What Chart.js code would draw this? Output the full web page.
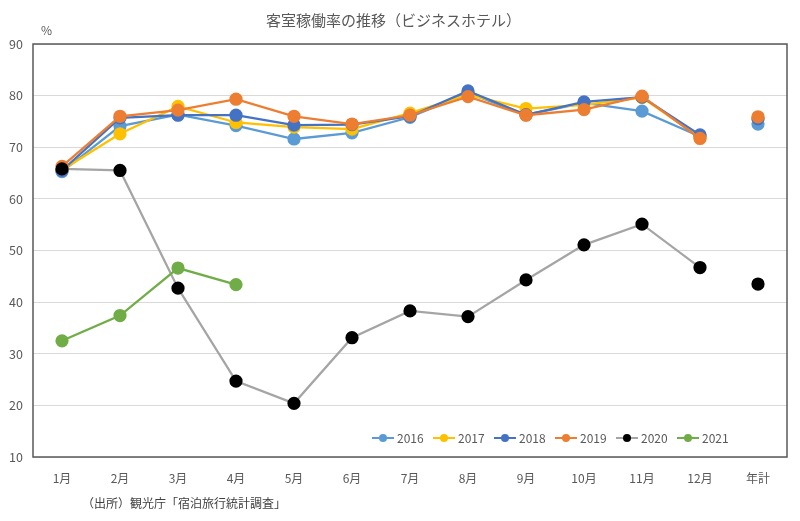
<!DOCTYPE html>
<html>
<head>
<meta charset="utf-8">
<script src="https://cdn.jsdelivr.net/npm/chart.js@4"></script>
<style>
  body { margin: 0; background: #fff; font-family: "Noto Sans CJK JP", sans-serif; }
  .wrap { position: relative; width: 800px; height: 521px; }
  .unit { position: absolute; left: 41px; top: 21px; font-size: 12px; color: #595959; }
  .source { position: absolute; left: 82px; top: 494px; font-size: 12px; color: #404040; }
  .legend { position: absolute; left: 372px; top: 429px; display: flex; font-size: 12px; color: #595959; }
  .legend .item { display: flex; align-items: center; width: 61px; }
  .legend .mark { position: relative; width: 22px; height: 2px; margin-right: 3px; }
  .legend .dot { position: absolute; left: 7px; top: -3px; width: 8px; height: 8px; border-radius: 50%; }
</style>
</head>
<body>
<div class="wrap">
  <canvas id="myChart" width="800" height="521"></canvas>
  <div class="unit">%</div>
  <div class="legend"></div>
  <div class="source">（出所）観光庁「宿泊旅行統計調査」</div>
</div>
<script>
const months = ["1月", "2月", "3月", "4月", "5月", "6月", "7月", "8月", "9月", "10月", "11月", "12月", "年計"];
const years = ["2016", "2017", "2018", "2019", "2020", "2021"];

const rate2016 = [65.3, 74.1, 76.3, 74.2, 71.6, 72.8, 75.8, 80.5, 76.3, 78.6, 77.0, 72.1, 74.5];
const rate2017 = [65.6, 72.6, 77.9, 74.8, 73.9, 73.5, 76.6, 80.2, 77.5, 78.2, 79.6, 71.9, 75.6];
const rate2018 = [65.5, 75.7, 76.2, 76.2, 74.3, 74.4, 76.0, 80.9, 76.3, 78.8, 79.7, 72.4, 75.5];
const rate2019 = [66.3, 76.0, 77.2, 79.3, 76.0, 74.5, 76.2, 79.8, 76.2, 77.3, 79.9, 71.7, 75.9];
const rate2020 = [65.8, 65.5, 42.7, 24.7, 20.4, 33.1, 38.3, 37.2, 44.3, 51.1, 55.1, 46.7, 43.5];
const rate2021 = [32.5, 37.4, 46.6, 43.4, null, null, null, null, null, null, null, null, null];

const lineColors = ["#5B9BD5", "#FFC000", "#4472C4", "#ED7D31", "#A5A5A5", "#70AD47"];
const pointColors = ["#5B9BD5", "#FFC000", "#4472C4", "#ED7D31", "#000000", "#70AD47"];
const allRates = [rate2016, rate2017, rate2018, rate2019, rate2020, rate2021];

const ctx = document.getElementById("myChart").getContext("2d");
const font = "'Noto Sans CJK JP', sans-serif";

// annual figure is not joined to December
const hideAnnualSegment = (c) => (c.p1DataIndex === 12 ? "rgba(0,0,0,0)" : undefined);

const datasets = years.map((year, i) => ({
  label: year,
  data: allRates[i],
  borderColor: lineColors[i],
  backgroundColor: pointColors[i],
  pointBackgroundColor: pointColors[i],
  pointBorderColor: pointColors[i],
  borderWidth: 2.25,
  pointRadius: 5.5,
  pointHoverRadius: 5.5,
  order: years.length - i,
  segment: { borderColor: hideAnnualSegment },
}));

const frame = {
  id: "frame",
  afterDraw(chart) {
    const a = chart.chartArea;
    const c = chart.ctx;
    c.save();
    c.strokeStyle = "#595959";
    c.lineWidth = 1.5;
    c.strokeRect(a.left, a.top, a.right - a.left, a.bottom - a.top);
    c.restore();
  },
};

new Chart(ctx, {
  type: "line",
  data: { labels: months, datasets: datasets },
  options: {
    responsive: false,
    animation: false,
    layout: { padding: { right: 13, left: 0, bottom: 0 } },
    plugins: {
      legend: { display: false },
      tooltip: { enabled: false },
      title: {
        display: true,
        text: "客室稼働率の推移（ビジネスホテル）",
        color: "#595959",
        font: { family: font, size: 15, weight: "normal" },
        padding: { top: 11, bottom: 15 },
      },
    },
    scales: {
      x: {
        offset: true,
        grid: { display: false },
        border: { display: false },
        ticks: { color: "#595959", font: { family: font, size: 12 }, padding: 6, maxRotation: 0 },
        afterFit: (scale) => { scale.height = 64; },
      },
      y: {
        min: 10,
        max: 90,
        ticks: { stepSize: 10, color: "#595959", font: { family: font, size: 12.5 }, padding: 10 },
        grid: { color: "#D9D9D9", drawTicks: false },
        border: { display: false },
        afterFit: (scale) => { scale.width = 33; },
      },
    },
  },
  plugins: [frame],
});

document.querySelector(".legend").innerHTML = years
  .map(
    (year, i) => `<div class="item"><div class="mark" style="background:${lineColors[i]}">
      <div class="dot" style="background:${pointColors[i]}"></div></div><span>${year}</span></div>`
  )
  .join("");
</script>
</body>
</html>
